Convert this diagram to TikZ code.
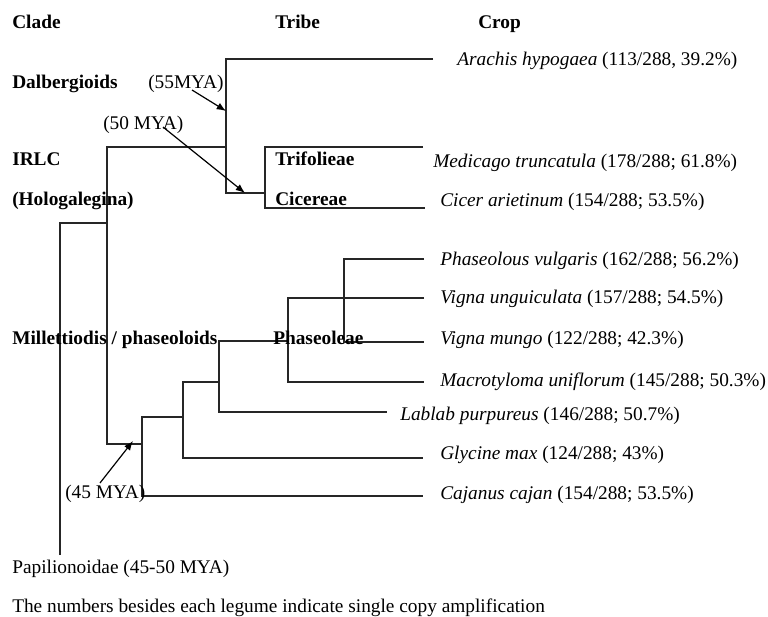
\documentclass[tikz,border=0pt]{standalone}
\usepackage{fontspec}
\setmainfont{Liberation Serif}
\usetikzlibrary{arrows.meta}
\begin{document}
\begin{tikzpicture}[x=0.75pt,y=-0.75pt,
  br/.style={draw=black!85,line width=0.8pt},
  lbl/.style={anchor=base west,inner sep=0pt,font=\fontsize{14.5}{17}\selectfont},
  blbl/.style={anchor=base west,inner sep=0pt,font=\fontsize{14.5}{17}\selectfont\bfseries},
  agearrow/.style={draw=black,line width=0.9pt,-{Latex[length=7pt,width=5.5pt]}}]
\useasboundingbox (0,0) rectangle (768,617);

% branch points and tips
\coordinate (root) at (60,555);
\coordinate (c107) at (107,223);
\coordinate (c226) at (226,147);
\coordinate (c265) at (265,193);
\coordinate (c142) at (142,444);
\coordinate (c183) at (183,417);
\coordinate (c219) at (219,382);
\coordinate (c288) at (288,341);
\coordinate (c344) at (344,300);
\coordinate (ar) at (433,59);
\coordinate (me) at (423,147);
\coordinate (ci) at (425,208);
\coordinate (ph) at (424,259);
\coordinate (vu) at (424,298);
\coordinate (vm) at (424,342);
\coordinate (mac) at (424,382);
\coordinate (lab) at (387,412);
\coordinate (gly) at (423,458);
\coordinate (caj) at (423,496);

% tree
\draw[br] (root) |- (c107);
\draw[br] (c226) -| (c107) |- (c142);
\draw[br] (ar) -| (c226) |- (c265);
\draw[br] (me) -| (c265) |- (ci);
\draw[br] (c183) -| (c142) |- (caj);
\draw[br] (c219) -| (c183) |- (gly);
\draw[br] (c288) -| (c219) |- (lab);
\draw[br] (vu) -| (c288) |- (mac);
\draw[br] (ph) -| (c344) |- (vm);

% headers and clade labels
\node[blbl] (clade) at (12,29) {Clade};
\node[blbl] (tribe) at (275,29) {Tribe};
\node[blbl] (crop) at (478,29) {Crop};
\node[blbl] (dalb) at (12,89) {Dalbergioids};
\node[blbl] (irlc) at (12,166) {IRLC};
\node[blbl] (holo) at (12,205) {(Hologalegina)};
\node[blbl] (trif) at (275,166) {Trifolieae};
\node[blbl] (cice) at (275,205) {Cicereae};
\node[blbl] (mill) at (12,344) {Millettiodis / phaseoloids};
\node[blbl] (phas) at (273,344) {Phaseoleae};

% ages
\node[lbl] (m55) at (148,89) {(55MYA)};
\node[lbl] (m50) at (103,129) {(50 MYA)};
\node[lbl] (m45) at (65,498) {(45 MYA)};
\coordinate (s55) at (192,90);
\coordinate (e55) at (226,111);
\coordinate (s50) at (163,127);
\coordinate (e50) at (245,193);
\coordinate (s45) at (100,483);
\coordinate (e45) at (133,441);
\draw[agearrow] (s55) -- (e55);
\draw[agearrow] (s50) -- (e50);
\draw[agearrow] (s45) -- (e45);

% species
\node[lbl] (sAr) at (457,66) {\textit{Arachis hypogaea} (113/288, 39.2\%)};
\node[lbl] (sMe) at (433,167) {\textit{Medicago truncatula} (178/288; 61.8\%)};
\node[lbl] (sCi) at (440,206) {\textit{Cicer arietinum} (154/288; 53.5\%)};
\node[lbl] (sPh) at (440,265) {\textit{Phaseolous vulgaris} (162/288; 56.2\%)};
\node[lbl] (sVu) at (440,303) {\textit{Vigna unguiculata} (157/288; 54.5\%)};
\node[lbl] (sVm) at (440,344) {\textit{Vigna mungo} (122/288; 42.3\%)};
\node[lbl] (sMa) at (440,386) {\textit{Macrotyloma uniflorum} (145/288; 50.3\%)};
\node[lbl] (sLa) at (400,420) {\textit{Lablab purpureus} (146/288; 50.7\%)};
\node[lbl] (sGl) at (440,459) {\textit{Glycine max} (124/288; 43\%)};
\node[lbl] (sCa) at (440,499) {\textit{Cajanus cajan} (154/288; 53.5\%)};

% footer
\node[lbl] (papi) at (12,573) {Papilionoidae (45-50 MYA)};
\node[lbl] (note) at (12,612) {The numbers besides each legume indicate single copy amplification};
\end{tikzpicture}
\end{document}
